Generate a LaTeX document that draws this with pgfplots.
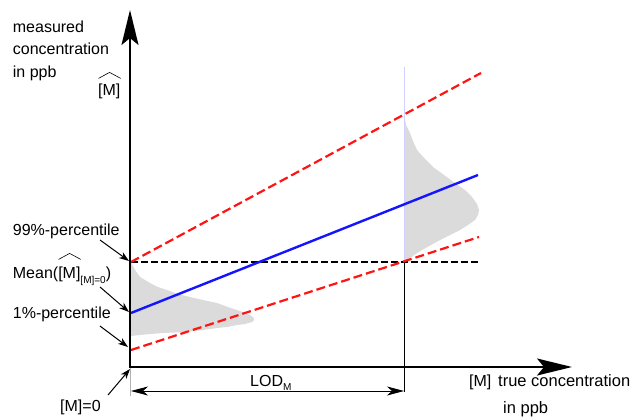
\documentclass[border=0pt]{standalone}
\usepackage{pgfplots}
\pgfplotsset{compat=1.18}
\usepackage{fontspec}
\setmainfont{Liberation Sans}
\usetikzlibrary{arrows.meta}
\newsavebox\hatb
\newcommand\hatted[2][7pt]{\sbox\hatb{#2}\leavevmode\rlap{\raisebox{\dimexpr\ht\hatb+#1\relax}{\tikz[baseline=0pt]\draw[line width=0.6pt,line join=miter] (0,0)--(0.5\wd\hatb,6pt)--(\wd\hatb,0);}}\usebox\hatb}
\newcommand\lbl{\fontsize{16}{19}\selectfont}
\newcommand\sub{\fontsize{10}{12}\selectfont}
\definecolor{distgray}{RGB}{219,219,219}
\definecolor{myred}{RGB}{255,20,20}
\definecolor{myblue}{RGB}{20,20,255}
\begin{document}
\begin{tikzpicture}
\path[use as bounding box] (0,0) rectangle (634pt,416pt);
\begin{axis}[at={(0,0)}, anchor=south west, width=634pt, height=416pt, scale only axis,
  xmin=0, xmax=634, ymin=0, ymax=416, hide axis, clip=false]
% distributions
\addplot[fill=distgray, draw=none] coordinates {
(131,154) (133,150) (135,146) (138,142) (140,139) (145,136) (150,133) (158,129) (167,126)
(178,122) (190,119) (203,116) (217,113) (228,109) (237,106) (245,103) (250,101) (254,98)
(254,96) (252,94) (245,92) (237,91) (227,89) (217,88) (203,86) (187,84) (163,83) (150,82)
(140,81) (131,80)} -- cycle;
\addplot[fill=distgray, draw=none] coordinates {
(404,303) (406,291) (410,283) (413,275) (417,266) (424,258) (433,249) (444,241) (455,233)
(465,226) (472,219) (477,212) (479,206) (478,201) (475,196) (468,191) (460,186) (450,181)
(440,176) (431,171) (422,166) (414,161) (408,156) (404,151)} -- cycle;
% thin vertical helper lines
\addplot[blue!18, line width=0.7pt] coordinates {(404,349) (404,154)};
\addplot[black, line width=0.8pt] coordinates {(404,154) (404,24)};
\addplot[gray!60, line width=0.7pt] coordinates {(130,49) (130,20)};
% LOD arrow
\addplot[black, line width=0.8pt, {Stealth[length=17pt,width=9pt,inset=5pt]}-{Stealth[length=17pt,width=9pt,inset=5pt]}] coordinates {(131,25) (404,25)};
% lines
\addplot[black, line width=1.8pt, dash pattern=on 7pt off 3pt] coordinates {(131,154) (481,154)};
\addplot[myred, line width=2.2pt, dash pattern=on 9pt off 4pt] coordinates {(131,154) (481,343)};
\addplot[myred, line width=2.2pt, dash pattern=on 9pt off 4pt] coordinates {(131,66) (479,179)};
\addplot[myblue, line width=2.4pt] coordinates {(131,103) (478,241)};
% axes
\addplot[black, line width=2pt, -{Stealth[length=35pt,width=17pt,inset=7pt]}] coordinates {(130,48) (130,406)};
\addplot[black, line width=2pt, -{Stealth[length=35pt,width=17pt,inset=7pt]}] coordinates {(129,49) (572,49)};
% annotation arrows
\addplot[black, line width=1pt, -{Stealth[length=10pt,width=7pt,inset=3pt]}] coordinates {(100,176) (129,155)};
\addplot[black, line width=1pt, -{Stealth[length=10pt,width=7pt,inset=3pt]}] coordinates {(100,129) (129,104)};
\addplot[black, line width=1pt, -{Stealth[length=10pt,width=7pt,inset=3pt]}] coordinates {(100,90) (128,69)};
\addplot[black, line width=1pt, -{Stealth[length=10pt,width=7pt,inset=3pt]}] coordinates {(108,21) (130,47)};
% texts
\node[anchor=base west, inner sep=0pt, font=\lbl] at (axis cs:12.7,383) {measured};
\node[anchor=base west, inner sep=0pt, font=\lbl] at (axis cs:12.7,361) {concentration};
\node[anchor=base west, inner sep=0pt, font=\lbl] at (axis cs:12.7,338) {in ppb};
\node[anchor=base west, inner sep=0pt, font=\lbl] at (axis cs:98,320) {\hatted[6pt]{[M]}};
\node[anchor=base west, inner sep=0pt, font=\lbl] at (axis cs:12.7,181) {99\%-percentile};
\node[anchor=base west, inner sep=0pt, font=\lbl] at (axis cs:12.7,138) {Mean(\hatted[7pt]{[M]}\raisebox{-5pt}{\sub[M]=0})};
\node[anchor=base west, inner sep=0pt, font=\lbl] at (axis cs:12.7,98) {1\%-percentile};
\node[anchor=base west, inner sep=0pt, font=\lbl] at (axis cs:60,5) {[M]=0};
\node[anchor=base west, inner sep=0pt, font=\lbl] at (axis cs:250,30) {LOD\raisebox{-4pt}{\sub M}};
\node[anchor=base west, inner sep=0pt, font=\lbl] at (axis cs:469,30) {[M]};
\node[anchor=base west, inner sep=0pt, font=\fontsize{16.5}{19}\selectfont] at (axis cs:498,30) {true concentration};
\node[anchor=base west, inner sep=0pt, font=\fontsize{16.5}{19}\selectfont] at (axis cs:503,3) {in ppb};
\end{axis}
\end{tikzpicture}
\end{document}
